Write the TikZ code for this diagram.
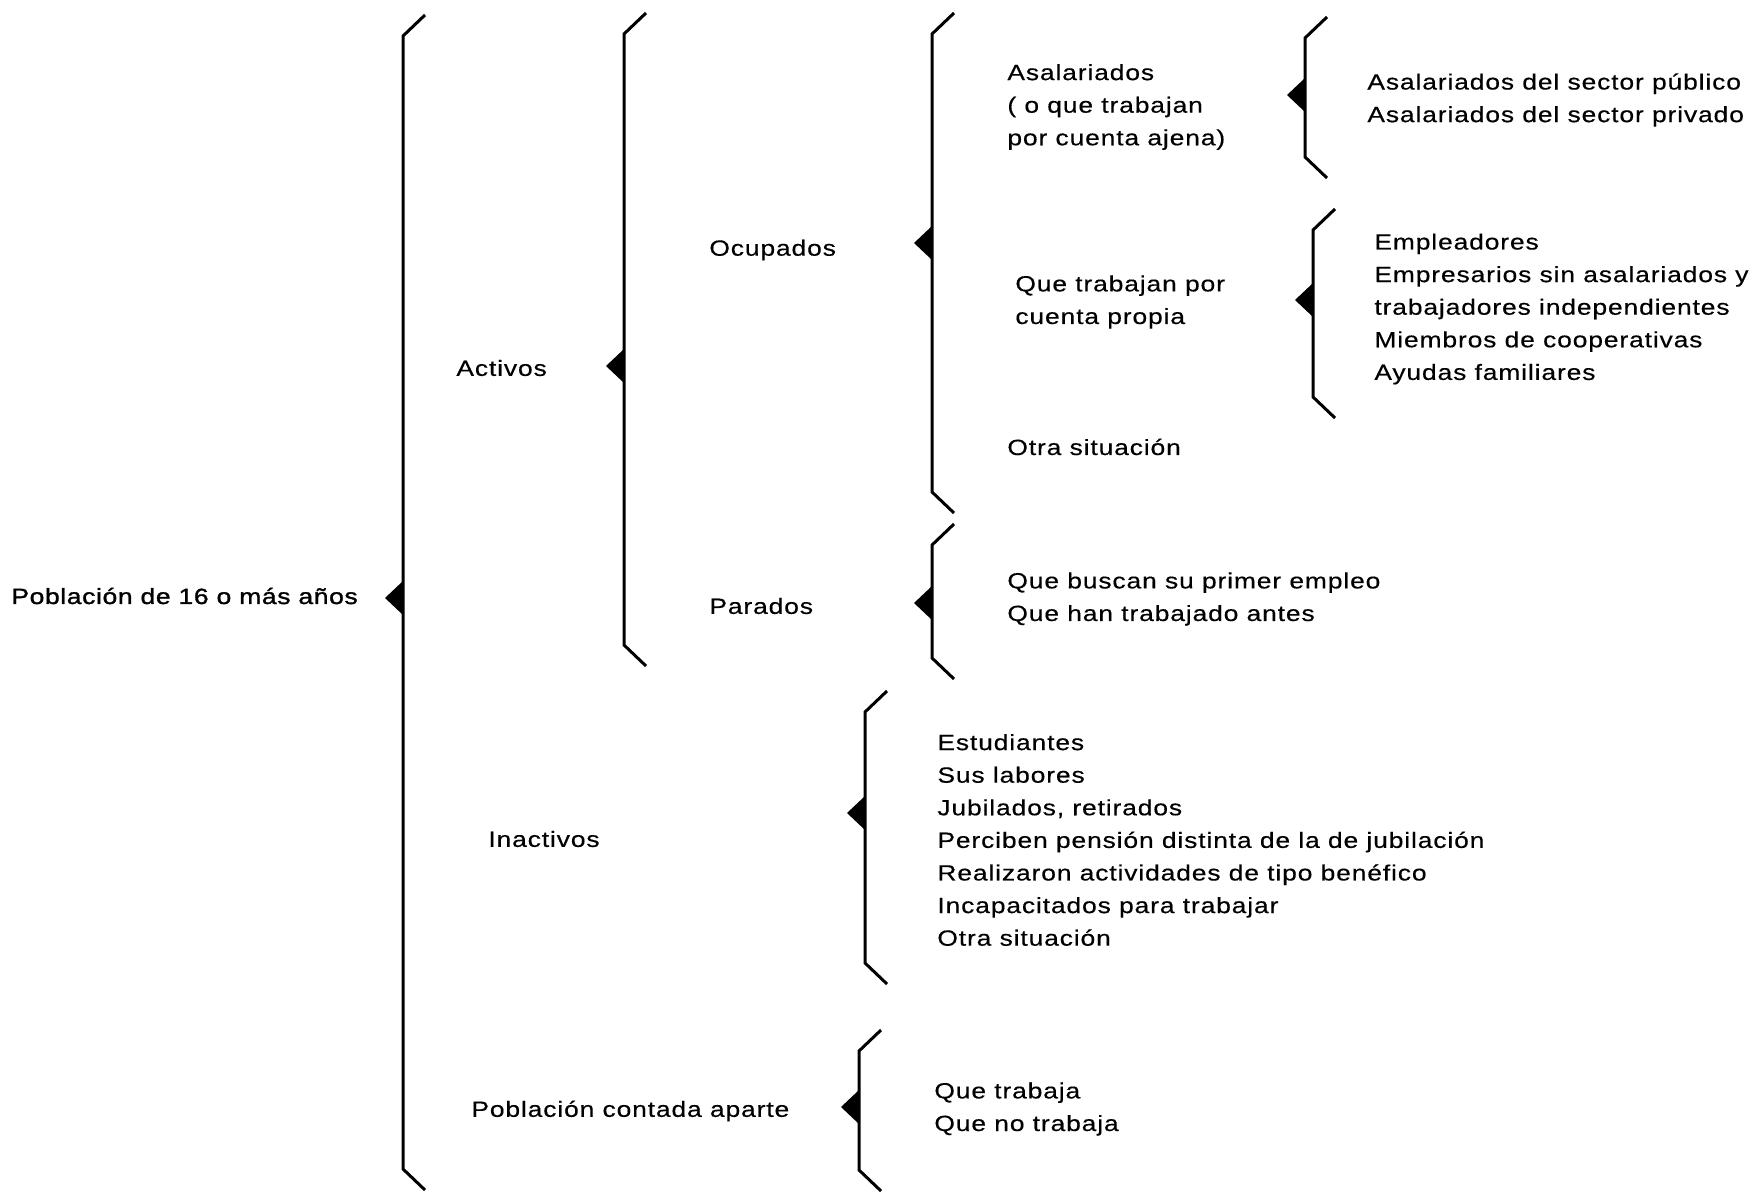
\documentclass[tikz,border=0pt]{standalone}
\usepackage{fontspec}
\setmainfont{Liberation Sans}[FakeStretch=1.2,LetterSpace=4,FakeBold=0.4]
\newfontfamily\gruesa{Liberation Sans}[FakeStretch=1.2,LetterSpace=3,FakeBold=1.4]
\usepackage{tikz}

% one brace: x, top, bottom, tip
\newcommand{\llave}[4]{%
  \draw[llave] (#1+22,#2-21) -- (#1,#2) -- (#1,#3) -- (#1+22,#3+21);
  \fill (#1,#4-17) -- (#1-18,#4) -- (#1,#4+17) -- cycle;
}

\tikzset{
  llave/.style={line width=1.5pt, line join=miter},
  rotulo/.style={anchor=west, inner sep=0pt, align=left, yshift=-1pt,
    font=\fontsize{11}{16.3}\selectfont},
}

\begin{document}
\begin{tikzpicture}[x=0.5pt,y=-0.5pt]
\useasboundingbox (0,0) rectangle (1754,1192);

% braces
\llave{403}{36}{1169}{598}
\llave{624}{34}{645}{366}
\llave{932}{34}{492}{243}
\llave{932}{545}{658}{603}
\llave{1305}{38}{157}{95}
\llave{1313}{230}{397}{300}
\llave{865}{712}{963}{813}
\llave{859}{1051}{1170}{1107}

% first level
\node[rotulo, font=\fontsize{11}{16.3}\gruesa] (pob) at (11,594) {Población de 16 o más años};
\node[rotulo] (act) at (456,366) {Activos};
\node[rotulo] (inact) at (488,837) {Inactivos};
\node[rotulo] (aparte) at (471,1109) {Población contada aparte};

% activos
\node[rotulo] (ocup) at (709,248) {Ocupados};
\node[rotulo] (par) at (709,604) {Parados};

% ocupados
\node[rotulo] (asal) at (1007,105) {Asalariados\\( o que trabajan\\por cuenta ajena)};
\node[rotulo] (propia) at (1015,300) {Que trabajan por\\cuenta propia};
\node[rotulo] (otra) at (1007,445) {Otra situación};

\node[rotulo] (sector) at (1367,98) {Asalariados del sector público\\Asalariados del sector privado};
\node[rotulo] (empl) at (1374,307) {Empleadores\\Empresarios sin asalariados y\\trabajadores independientes\\Miembros de cooperativas\\Ayudas familiares};

% parados
\node[rotulo] (busca) at (1007,597) {Que buscan su primer empleo\\Que han trabajado antes};

% inactivos
\node[rotulo] (lista) at (937,838) {Estudiantes\\Sus labores\\Jubilados, retirados\\Perciben pensión distinta de la de jubilación\\Realizaron actividades de tipo benéfico\\Incapacitados para trabajar\\Otra situación};

% contada aparte
\node[rotulo] (trab) at (934,1107) {Que trabaja\\Que no trabaja};
\end{tikzpicture}
\end{document}
